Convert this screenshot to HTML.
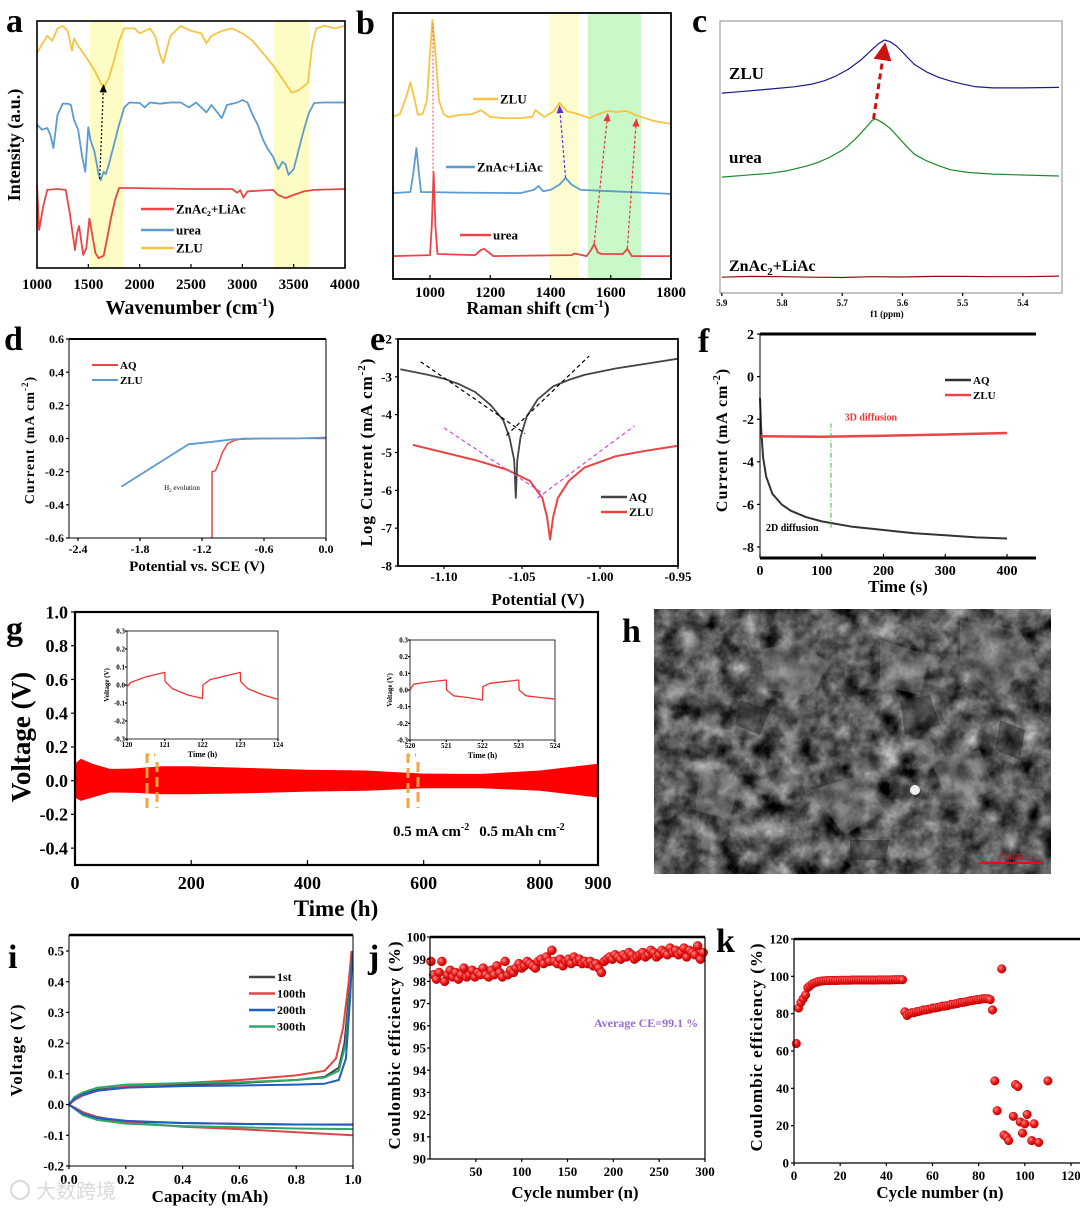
<!DOCTYPE html>
<html><head><meta charset="utf-8">
<style>
html,body{margin:0;padding:0;background:#fff;}
svg{display:block;font-family:"Liberation Serif",serif;font-weight:bold;}
</style></head>
<body>
<svg id="fig" width="1080" height="1208" viewBox="0 0 1080 1208" xmlns="http://www.w3.org/2000/svg">
<defs>
<marker id="ahK" markerWidth="8" markerHeight="8" refX="6" refY="4" orient="auto"><path d="M0,1 L7,4 L0,7 z" fill="#000"/></marker>
<marker id="ahR" markerWidth="8" markerHeight="8" refX="6" refY="4" orient="auto"><path d="M0,1 L7,4 L0,7 z" fill="#e33"/></marker>
<marker id="ahP" markerWidth="8" markerHeight="8" refX="6" refY="4" orient="auto"><path d="M0,1 L7,4 L0,7 z" fill="#6a2fd0"/></marker>
<marker id="ahD" markerWidth="6" markerHeight="6" refX="4" refY="3" orient="auto"><path d="M0,0 L6,3 L0,6 z" fill="#c11"/></marker>
<radialGradient id="dot" cx="35%" cy="35%" r="70%"><stop offset="0" stop-color="#ff8a8a"/><stop offset="0.5" stop-color="#ee1c1c"/><stop offset="1" stop-color="#b30000"/></radialGradient>
<filter id="noise" x="0" y="0" width="100%" height="100%" color-interpolation-filters="sRGB"><feTurbulence type="fractalNoise" baseFrequency="0.05" numOctaves="4" seed="7"/><feColorMatrix type="matrix" values="0.6 0.6 0.6 0 -0.55  0.6 0.6 0.6 0 -0.55  0.6 0.6 0.6 0 -0.55  0 0 0 0 1"/></filter>
</defs>

<g font-size="34">
<text x="6" y="32">a</text>
<text x="356" y="34">b</text>
<text x="692" y="32">c</text>
<text x="4" y="350">d</text>
<text x="370" y="350">e</text>
<text x="698" y="352">f</text>
<text x="6" y="640">g</text>
<text x="622" y="642">h</text>
<text x="8" y="968">i</text>
<text x="368" y="968">j</text>
<text x="716" y="952">k</text>
</g>

<rect x="90" y="21" width="33" height="247" fill="#fdfcc4"/>
<rect x="274" y="21" width="35" height="247" fill="#fdfcc4"/>
<g id="pa"></g>
<text transform="translate(20,145) rotate(-90)" text-anchor="middle" font-size="18">Intensity (a.u.)</text>
<text x="190" y="314" text-anchor="middle" font-size="20">Wavenumber (cm<tspan dy="-8" font-size="12">-1</tspan><tspan dy="8">)</tspan></text>

<rect x="550" y="13" width="29" height="266" fill="#fdfcd0"/>
<rect x="588" y="13" width="53" height="266" fill="#c9f8c9"/>
<g id="pb"></g>
<text x="538" y="314" text-anchor="middle" font-size="18">Raman shift (cm<tspan dy="-7" font-size="11">-1</tspan><tspan dy="7">)</tspan></text>

<g id="pc"></g>
<text x="729" y="79" font-size="17">ZLU</text>
<text x="729" y="163" font-size="17">urea</text>
<text x="729" y="271" font-size="16">ZnAc<tspan dy="4" font-size="11">2</tspan><tspan dy="-4">+LiAc</tspan></text>
<text x="887" y="317" text-anchor="middle" font-size="9">f1 (ppm)</text>

<g id="pd"></g>
<text x="182" y="490" text-anchor="middle" font-size="7" font-weight="normal">H<tspan dy="2" font-size="5">2</tspan><tspan dy="-2"> evolution</tspan></text>
<text transform="translate(34,440) rotate(-90)" text-anchor="middle" font-size="14" letter-spacing="1">Current (mA cm<tspan dy="-6" font-size="9">-2</tspan><tspan dy="6">)</tspan></text>
<text x="197" y="571" text-anchor="middle" font-size="15">Potential vs. SCE (V)</text>

<g id="pe"></g>
<text transform="translate(372,452) rotate(-90)" text-anchor="middle" font-size="17" letter-spacing="1">Log Current (mA cm<tspan dy="-7" font-size="11">-2</tspan><tspan dy="7">)</tspan></text>
<text x="538" y="605" text-anchor="middle" font-size="17">Potential (V)</text>

<g id="pf"></g>
<text transform="translate(727,440) rotate(-90)" text-anchor="middle" font-size="16" letter-spacing="1">Current (mA cm<tspan dy="-7" font-size="10">-2</tspan><tspan dy="7">)</tspan></text>
<text x="898" y="592" text-anchor="middle" font-size="17">Time (s)</text>

<g id="pg"></g>
<text transform="translate(30,737) rotate(-90)" text-anchor="middle" font-size="27">Voltage (V)</text>
<text x="336" y="916" text-anchor="middle" font-size="23">Time (h)</text>
<text x="393" y="836" font-size="15">0.5 mA cm<tspan dy="-6" font-size="10">-2</tspan><tspan dy="6" dx="10">0.5 mAh cm</tspan><tspan dy="-6" font-size="10">-2</tspan></text>

<g>
<rect x="654" y="609" width="397" height="265" fill="#4a4a4a"/>
<rect x="654" y="609" width="397" height="265" filter="url(#noise)"/>
<g fill="#8a8a8a" opacity="0.35">
<path d="M760,650 l40,-10 l30,25 l-20,30 l-45,-5 z"/>
<path d="M880,640 l50,15 l-10,40 l-40,-10 z"/>
<path d="M960,620 l60,10 l20,40 l-50,20 l-30,-30 z"/>
<path d="M810,790 l50,-15 l25,35 l-40,25 z"/>
<path d="M700,770 l40,10 l-10,40 l-35,-10 z"/>
<path d="M930,760 l50,-10 l15,40 l-45,15 z"/>
</g>
<g fill="#151515" opacity="0.4">
<path d="M740,700 l30,10 l-10,25 l-25,-10 z"/>
<path d="M900,700 l30,-5 l10,30 l-35,10 z"/>
<path d="M1000,720 l25,10 l-5,30 l-25,-10 z"/>
<path d="M850,840 l40,0 l-5,20 l-35,0 z"/>
</g>
<circle cx="915" cy="790" r="5" fill="#eee"/>
<line x1="980" y1="863" x2="1043" y2="863" stroke="#e01010" stroke-width="2"/>
<text x="1012" y="859" text-anchor="middle" font-size="11" font-weight="normal" fill="#e01010">5 um</text>
</g>

<g id="pi"></g>
<text transform="translate(22,1050) rotate(-90)" text-anchor="middle" font-size="17" letter-spacing="1">Voltage (V)</text>
<text x="210" y="1202" text-anchor="middle" font-size="17">Capacity (mAh)</text>

<g id="pj"></g>
<text transform="translate(400,1045) rotate(-90)" text-anchor="middle" font-size="17" letter-spacing="1">Coulombic efficiency (%)</text>
<text x="575" y="1198" text-anchor="middle" font-size="17">Cycle number (n)</text>
<text x="646" y="1027" text-anchor="middle" font-size="12" fill="#9b6ad0">Average CE=99.1 %</text>

<g id="pk"></g>
<text transform="translate(762,1047) rotate(-90)" text-anchor="middle" font-size="17" letter-spacing="1">Coulombic efficiency (%)</text>
<text x="940" y="1198" text-anchor="middle" font-size="17">Cycle number (n)</text>

<g opacity="0.55">
<circle cx="20" cy="1190" r="9" fill="none" stroke="#bbb" stroke-width="2"/>
<text x="36" y="1198" font-family="'Liberation Sans','Noto Sans CJK SC',sans-serif" font-size="20" font-weight="normal" fill="#bbb">大数跨境</text>
</g>

<script>
const NS='http://www.w3.org/2000/svg';
function el(tag,attrs,parent){const e=document.createElementNS(NS,tag);for(const k in attrs)e.setAttribute(k,attrs[k]);parent.appendChild(e);return e;}
function lin(d0,d1,r0,r1){return v=>r0+(v-d0)*(r1-r0)/(d1-d0);}
function poly(g,pts,xs,ys,style,name){
  const p=el('polyline',Object.assign({points:pts.map(d=>xs(d[0]).toFixed(1)+','+ys(d[1]).toFixed(1)).join(' '),fill:'none','stroke-linejoin':'round'},style),g);
  
  
  return p;
}
function txt(g,x,y,s,size,anchor,extra){
  const t=el('text',Object.assign({x:x,y:y,'font-size':size,'text-anchor':anchor||'middle'},extra||{}),g);
  t.textContent=s;
  
  
  return t;
}
function frame(g,x0,y0,x1,y1,sw,color){
  const r=el('rect',{x:x0,y:y0,width:x1-x0,height:y1-y0,fill:'none',stroke:color||'#000','stroke-width':sw},g);
  
  
}
function xticks(g,vals,labels,xs,yb,ly,size,len){
  vals.forEach((v,i)=>{
    const l=el('line',{x1:xs(v),x2:xs(v),y1:yb,y2:yb-(len||4),stroke:'#000','stroke-width':1.2},g);
    
    
    if(labels&&labels[i]!==null)txt(g,xs(v),ly,labels[i],size);
  });
}
function yticks(g,vals,labels,ys,xl,lx,size,len){
  vals.forEach((v,i)=>{
    const l=el('line',{x1:xl,x2:xl+(len||4),y1:ys(v),y2:ys(v),stroke:'#000','stroke-width':1.2},g);
    
    
    if(labels&&labels[i]!==null)txt(g,lx,ys(v)+size*0.35,labels[i],size,'end');
  });
}
function legend(g,x,y,color,label,size,len,sw){
  const l=el('line',{x1:x,x2:x+len,y1:y,y2:y,stroke:color,'stroke-width':sw||2.5},g);
  
  
  const t=txt(g,x+len+2,y+size*0.35,label,size,'start');
  
  return t;
}
function arrow(g,x1,y1,x2,y2,color,dash,marker,sw,name){
  const l=el('line',{x1:x1,y1:y1,x2:x2,y2:y2,stroke:color,'stroke-width':sw||1.2,'stroke-dasharray':dash,'marker-end':'url(#'+marker+')'},g);
  
  
}

/* ===== Panel a ===== */
const aTicks=[1000,1500,2000,2500,3000,3500,4000];
const aZLU=[[1000,87],[1040,90],[1100,94],[1150,92],[1200,97],[1250,98],[1300,96],[1340,88],[1360,93],[1400,90],[1450,87],[1500,84],[1560,80],[1620,75],[1650,73],[1700,77],[1750,84],[1800,92],[1850,97],[1950,97],[2000,95],[2050,96],[2100,97],[2150,94],[2200,86],[2230,83],[2260,88],[2300,94],[2400,98],[2500,96],[2600,95],[2650,91],[2700,94],[2800,96],[2900,97],[3000,95],[3100,92],[3200,87],[3300,82],[3400,76],[3480,71],[3550,72],[3640,75],[3680,90],[3720,97],[3800,98],[3900,97],[4000,98]];
const aUrea=[[1000,58],[1050,56],[1100,56.7],[1130,54],[1160,48.6],[1200,62],[1250,66.5],[1300,66.5],[1330,66],[1360,60],[1400,56],[1440,45],[1470,39],[1500,57],[1520,52],[1560,47],[1600,38],[1620,35.6],[1650,39],[1670,38],[1700,42],[1750,50],[1800,58],[1850,65],[1900,67],[2000,66.8],[2050,65],[2100,67],[2200,66.5],[2300,67],[2400,67],[2480,65],[2550,67],[2650,63],[2700,66],[2800,60.7],[2850,66],[2950,67],[3000,68],[3050,67],[3100,62],[3150,58],[3200,52],[3250,48],[3300,45],[3350,40],[3390,43],[3420,42],[3450,37.7],[3500,40],[3550,48],[3600,56],[3650,63],[3700,66.8],[3800,67],[4000,67]];
const aZnLi=[[1000,33.6],[1020,15.4],[1040,20],[1060,25],[1100,31.6],[1200,32],[1280,31.6],[1320,22],[1340,16],[1370,7.3],[1390,14],[1410,17],[1450,5.3],[1480,8],[1510,20],[1540,13],[1570,6],[1600,4],[1650,5],[1680,11.3],[1720,20],[1760,27.5],[1800,32.4],[1900,32.4],[2500,32],[2900,32],[2950,30.5],[2980,31.5],[3010,28.5],[3050,31],[3300,31.6],[3350,29.5],[3420,28.3],[3500,29.6],[3600,31],[3700,31.6],[4000,32]];
(function(){
  const g=document.getElementById('pa');
  const xs=lin(1000,4000,37,345), ys=lin(0,100,268,21);
  poly(g,aZLU,xs,ys,{stroke:'#f5c542','stroke-width':1.8},'series-zlu');
  poly(g,aUrea,xs,ys,{stroke:'#5b9bd0','stroke-width':1.8},'series-urea');
  poly(g,aZnLi,xs,ys,{stroke:'#e94545','stroke-width':1.8},'series-znac2-liac');
  arrow(g,xs(1610),ys(36),xs(1648),ys(74),'#000','2,2','ahK',1.2,'shift-arrow');
  frame(g,37,21,345,268,1.6);
  xticks(g,aTicks,aTicks.map(String),xs,268,289,15,4);
  legend(g,141,209,'#e94545','ZnAc\u2082+LiAc',13,33);
  legend(g,141,230,'#5b9bd0','urea',13,33);
  legend(g,141,248,'#f5c542','ZLU',13,33);
})();

/* ===== Panel b ===== */
const bTicks=[1000,1200,1400,1600,1800];
const bZLU=[[878,61],[900,62],[920,68],[935,74],[948,68],[960,61.7],[975,62],[990,67],[1000,85],[1008,97.4],[1016,88],[1030,67],[1045,62],[1060,60.9],[1100,61.7],[1140,62],[1170,63.5],[1200,60.9],[1250,60.5],[1300,60.5],[1340,61],[1350,63.5],[1380,60.9],[1410,63],[1430,66.2],[1455,63],[1480,62.4],[1530,60.5],[1560,62],[1590,63.2],[1620,62.8],[1650,63.2],[1690,61.3],[1740,59.5],[1800,58.3]];
const bZnLi=[[878,32.3],[935,32.7],[945,40],[955,49.2],[963,40],[970,32.7],[1100,32.5],[1300,32.3],[1345,33.5],[1360,35],[1375,33],[1400,33.5],[1430,35.5],[1450,38],[1470,35.5],[1500,33.5],[1600,33],[1800,32]];
const bUrea=[[878,8.6],[1000,9],[1006,20],[1012,40.2],[1018,20],[1025,9.4],[1150,9],[1170,11],[1180,11.3],[1200,9.5],[1210,8.6],[1470,9],[1480,9.6],[1520,8.6],[1535,11],[1545,13.2],[1557,10],[1570,9.4],[1640,9.4],[1655,11.3],[1670,8.6],[1800,8.6]];
(function(){
  const g=document.getElementById('pb');
  const xs=lin(1000,1800,430,671), ys=lin(0,100,279,13);
  poly(g,bZLU,xs,ys,{stroke:'#f5c542','stroke-width':1.8},'series-zlu');
  poly(g,bZnLi,xs,ys,{stroke:'#5b9bd0','stroke-width':1.8},'series-znac-liac');
  poly(g,bUrea,xs,ys,{stroke:'#e94545','stroke-width':1.8},'series-urea');
  const l=el('line',{x1:xs(1010),x2:xs(1010),y1:ys(40),y2:ys(96),stroke:'#e94545','stroke-width':1,'stroke-dasharray':'2,2'},g);
  
  
  arrow(g,xs(1450),ys(38),xs(1430),ys(65),'#6a2fd0','3,2','ahP',1.2,'shift-arrow-purple');
  arrow(g,xs(1545),ys(13.5),xs(1590),ys(62),'#e33','3,2','ahR',1.2,'shift-arrow-red-1');
  arrow(g,xs(1655),ys(11.5),xs(1685),ys(60),'#e33','3,2','ahR',1.2,'shift-arrow-red-2');
  frame(g,393,13,671,279,1.8);
  xticks(g,bTicks,bTicks.map(String),xs,279,297,15,4);
  legend(g,473,99,'#f5c542','ZLU',13,25);
  legend(g,446,167,'#5b9bd0','ZnAc+LiAc',13,29);
  legend(g,460,235,'#e94545','urea',13,31);
})();

/* ===== Panel c ===== */
const cTicks=[5.9,5.8,5.7,5.6,5.5,5.4];
const cTickLabels=['5.9','5.8','5.7','5.6','5.5','5.4'];
const cZLU=[[5.90,73.5],[5.87,74],[5.84,74.6],[5.81,75.2],[5.78,75.8],[5.75,76.8],[5.73,78],[5.71,79.8],[5.69,82.2],[5.67,85.5],[5.66,87.5],[5.65,89.6],[5.64,91.6],[5.63,93],[5.62,92.3],[5.61,90.8],[5.60,88.6],[5.59,86.2],[5.58,84],[5.56,81.3],[5.54,79.3],[5.52,77.9],[5.50,76.8],[5.48,75.9],[5.45,75.4],[5.40,75.4],[5.34,75.6]];
const cUrea=[[5.90,42.6],[5.86,43.3],[5.82,44],[5.79,45],[5.76,46.6],[5.74,48],[5.72,50],[5.70,52.5],[5.69,54.2],[5.68,56.3],[5.67,58.5],[5.66,61],[5.65,63.5],[5.645,64],[5.64,63.5],[5.63,62.2],[5.62,60.4],[5.61,58],[5.60,55.6],[5.59,53.2],[5.58,51],[5.56,48.6],[5.54,46.8],[5.52,45.3],[5.49,44.3],[5.45,43.7],[5.40,43.4],[5.34,43]];
const cZnLi=[[5.90,5.8],[5.85,6.1],[5.80,6.0],[5.75,5.8],[5.70,5.7],[5.65,6.0],[5.60,5.9],[5.55,6.1],[5.50,6.1],[5.45,6.0],[5.40,6.0],[5.34,6.2]];
(function(){
  const g=document.getElementById('pc');
  const xs=lin(5.903,5.335,720,1062), ys=lin(0,100,293,21);
  poly(g,cZLU,xs,ys,{stroke:'#1a1a8c','stroke-width':1.2},'series-zlu');
  poly(g,cUrea,xs,ys,{stroke:'#1f8a2a','stroke-width':1.2},'series-urea');
  poly(g,cZnLi,xs,ys,{stroke:'#8b1010','stroke-width':1.2},'series-znac2-liac');
  arrow(g,xs(5.648),ys(64),xs(5.630),ys(90),'#c11','6,4','ahD',3,'shift-arrow');
  frame(g,720,21,1062,293,1,'#888');
  xticks(g,cTicks,cTickLabels,xs,293,306,9,-3);
})();

/* ===== Panel d ===== */
const dXTicks=[-2.4,-1.8,-1.2,-0.6,0.0];
const dYTicks=[-0.6,-0.4,-0.2,0.0,0.2,0.4,0.6];
const dAQ=[[-1.103,-0.6],[-1.103,-0.2],[-1.07,-0.195],[-1.04,-0.15],[-1.0,-0.08],[-0.95,-0.03],[-0.88,-0.01],[-0.8,0],[-0.6,0],[-0.3,0.002],[0,0.0]];
const dZLU=[[-1.98,-0.29],[-1.33,-0.035],[-1.1,-0.02],[-0.9,-0.005],[-0.6,0],[-0.3,0],[0,0.006]];
(function(){
  const g=document.getElementById('pd');
  const xs=lin(-2.487,0,69,326), ys=lin(-0.6,0.6,538,339);
  poly(g,dAQ,xs,ys,{stroke:'#e94545','stroke-width':1.5},'series-aq');
  poly(g,dZLU,xs,ys,{stroke:'#5b9bd0','stroke-width':1.8},'series-zlu');
  el('line',{x1:69,y1:339,x2:326,y2:339,stroke:'#000','stroke-width':2},g);
  el('line',{x1:69,y1:339,x2:69,y2:538,stroke:'#000','stroke-width':1},g);
  el('line',{x1:326,y1:339,x2:326,y2:538,stroke:'#000','stroke-width':1},g);
  el('line',{x1:69,y1:538,x2:326,y2:538,stroke:'#000','stroke-width':1},g);
  xticks(g,dXTicks,dXTicks.map(v=>v.toFixed(1)),xs,538,553,12,-3);
  yticks(g,dYTicks,dYTicks.map(v=>v.toFixed(1)),ys,69,64,12,-3);
  legend(g,92,365,'#e94545','AQ',11,26,2);
  legend(g,92,380,'#5b9bd0','ZLU',11,26,2);
})();

/* ===== Panel e ===== */
const eXTicks=[-1.10,-1.05,-1.00,-0.95];
const eYTicks=[-8,-7,-6,-5,-4,-3,-2];
const eAQ=[[-1.128,-2.8],[-1.11,-2.95],[-1.10,-3.05],[-1.09,-3.2],[-1.08,-3.4],[-1.07,-3.75],[-1.062,-4.15],[-1.058,-4.6],[-1.055,-5.2],[-1.054,-6.2],[-1.053,-5.2],[-1.051,-4.6],[-1.047,-4.05],[-1.04,-3.6],[-1.03,-3.25],[-1.02,-3.08],[-1.01,-2.95],[-0.99,-2.78],[-0.97,-2.65],[-0.95,-2.52]];
const eZLU=[[-1.12,-4.8],[-1.10,-5.0],[-1.08,-5.2],[-1.06,-5.45],[-1.045,-5.75],[-1.037,-6.2],[-1.034,-6.7],[-1.032,-7.3],[-1.030,-6.7],[-1.027,-6.2],[-1.02,-5.75],[-1.01,-5.4],[-0.99,-5.1],[-0.97,-4.95],[-0.95,-4.82]];
const eFitAQ=[[[-1.115,-2.6],[-1.048,-4.5]],[[-1.06,-4.55],[-1.007,-2.45]]];
const eFitZLU=[[[-1.10,-4.35],[-1.036,-6.1]],[[-1.04,-6.2],[-0.978,-4.3]]];
(function(){
  const g=document.getElementById('pe');
  const xs=lin(-1.1295,-0.95,398,678), ys=lin(-8,-2,566,339);
  poly(g,eZLU,xs,ys,{stroke:'#e94545','stroke-width':2},'series-zlu');
  poly(g,eAQ,xs,ys,{stroke:'#444','stroke-width':1.8},'series-aq');
  eFitAQ.forEach(s=>poly(g,s,xs,ys,{stroke:'#000','stroke-width':1.2,'stroke-dasharray':'4,3'},'tafel-fit-aq'));
  eFitZLU.forEach(s=>poly(g,s,xs,ys,{stroke:'#d34ad8','stroke-width':1.2,'stroke-dasharray':'4,3'},'tafel-fit-zlu'));
  frame(g,398,339,678,566,1.8);
  xticks(g,eXTicks,eXTicks.map(v=>v.toFixed(2)),xs,566,581,13,-3);
  yticks(g,eYTicks,eYTicks.map(String),ys,398,392,13,-3);
  legend(g,601,497,'#444','AQ',12,26,2.5);
  legend(g,601,512,'#e94545','ZLU',12,26,2.5);
})();

/* ===== Panel f ===== */
const fXTicks=[0,100,200,300,400];
const fYTicks=[-8,-6,-4,-2,0,2];
const fAQ=[[0,-1],[2,-2.5],[5,-3.8],[10,-4.7],[20,-5.5],[35,-6.0],[50,-6.3],[75,-6.6],[100,-6.8],[150,-7.05],[200,-7.2],[250,-7.35],[300,-7.45],[350,-7.55],[400,-7.6]];
const fZLU=[[0,-2.8],[100,-2.82],[200,-2.78],[300,-2.72],[400,-2.65]];
(function(){
  const g=document.getElementById('pf');
  const xs=lin(0,400,760,1007), ys=lin(-8,2,547,334);
  poly(g,fAQ,xs,ys,{stroke:'#333','stroke-width':2},'series-aq');
  poly(g,fZLU,xs,ys,{stroke:'#e94545','stroke-width':2.5},'series-zlu');
  poly(g,[[115,-7.1],[115,-2.2]],xs,ys,{stroke:'#2fbf3a','stroke-width':1,'stroke-dasharray':'5,2,1,2'},'diffusion-divider');
  el('line',{x1:760,y1:334,x2:1036,y2:334,stroke:'#000','stroke-width':3},g);
  el('line',{x1:760,y1:558,x2:1036,y2:558,stroke:'#000','stroke-width':3},g);
  el('line',{x1:760,y1:334,x2:760,y2:558,stroke:'#000','stroke-width':1},g);
  xticks(g,fXTicks,fXTicks.map(String),xs,558,575,14,4);
  yticks(g,fYTicks,fYTicks.map(String),ys,760,754,14,-3);
  legend(g,945,380,'#333','AQ',11,26,2.5);
  legend(g,945,395,'#e94545','ZLU',11,26,2.5);
  txt(g,xs(137),ys(-2.05),'3D diffusion',10,'start',{fill:'#e33'});
  txt(g,766,531,'2D diffusion',10,'start');
})();

/* ===== Panel g ===== */
const gXTicks=[0,200,400,600,800,900];
const gYTicks=[-0.4,-0.2,0.0,0.2,0.4,0.6,0.8,1.0];
const gUpper=[[0,0.1],[10,0.13],[30,0.1],[60,0.07],[100,0.072],[150,0.085],[200,0.085],[300,0.075],[400,0.065],[500,0.06],[600,0.042],[700,0.04],[800,0.06],[900,0.1]];
const gLower=[[0,-0.1],[10,-0.12],[30,-0.1],[60,-0.07],[100,-0.072],[150,-0.08],[200,-0.08],[300,-0.075],[400,-0.065],[500,-0.06],[600,-0.045],[700,-0.045],[800,-0.06],[900,-0.1]];
const gIns1=[[120,-0.01],[120.1,0.015],[120.5,0.045],[121,0.07],[121.01,0.02],[121.2,-0.02],[121.6,-0.055],[122,-0.075],[122.01,0.0],[122.2,0.03],[122.6,0.05],[123,0.07],[123.01,0.02],[123.2,-0.02],[123.6,-0.055],[124,-0.08]];
const gIns2=[[520,0.0],[520.1,0.035],[520.4,0.045],[521,0.06],[521.01,0.0],[521.2,-0.035],[521.6,-0.045],[522,-0.06],[522.01,0.02],[522.2,0.04],[522.6,0.05],[523,0.06],[523.01,0.0],[523.2,-0.035],[523.6,-0.045],[524,-0.055]];
const gInsYTicks=[-0.3,-0.2,-0.1,0.0,0.1,0.2,0.3];
(function(){
  const g=document.getElementById('pg');
  const xs=lin(0,900,75,598), ys=lin(-0.5,1.0,865,612);
  const pts=gUpper.concat(gLower.slice().reverse());
  const band=el('polygon',{points:pts.map(d=>xs(d[0]).toFixed(1)+','+ys(d[1]).toFixed(1)).join(' '),fill:'#f00'},g);
  
  
  frame(g,75,612,598,865,2.2);
  xticks(g,gXTicks,gXTicks.map(String),xs,865,889,18,5);
  yticks(g,gYTicks,gYTicks.map(v=>v.toFixed(1)),ys,75,68,18,-4);
  [[131,148],[580,409]].forEach((o,i)=>{
    const r=el('path',{d:'M'+(o[1]-1)+',808 V755 H'+(o[1]+7)+' M'+(o[1]+9)+',762 V808',fill:'none',stroke:'#f7a340','stroke-width':3,'stroke-dasharray':'10,5'},g);
    
    
  });
  function inset(x0,y0,x1,y1,t0,data,name){
    const ix=lin(t0,t0+4,x0,x1), iy=lin(-0.3,0.3,y1,y0);
    el('rect',{x:x0,y:y0,width:x1-x0,height:y1-y0,fill:'#fff',stroke:'#000','stroke-width':0.8},g);
    poly(g,data,ix,iy,{stroke:'#e33','stroke-width':1.3},name);
    const tk=[0,1,2,3,4].map(v=>t0+v);
    xticks(g,tk,tk.map(String),ix,y1,y1+8,7,-2);
    yticks(g,gInsYTicks,gInsYTicks.map(v=>v.toFixed(1)),iy,x0,x0-2,7,-2);
    txt(g,(x0+x1)/2,y1+18,'Time (h)',8);
    const yt=el('text',{transform:'translate('+(x0-18)+','+((y0+y1)/2)+') rotate(-90)','text-anchor':'middle','font-size':7},g);
    yt.textContent='Voltage (V)';
    
    
  }
  inset(127,631,278,739,120,gIns1,'inset-series-120h');
  inset(410,640,555,740,520,gIns2,'inset-series-520h');
})();

/* ===== Panel i ===== */
const iXTicks=[0,0.2,0.4,0.6,0.8,1.0];
const iYTicks=[-0.2,-0.1,0.0,0.1,0.2,0.3,0.4,0.5];
const iCycles=['1st','100th','200th','300th'];
const iColors=['#444','#e04545','#1f5fbf','#2ea86a'];
const iCharge1=[[0,0],[0.02,0.02],[0.05,0.035],[0.1,0.048],[0.2,0.058],[0.4,0.065],[0.6,0.07],[0.8,0.08],[0.9,0.09],[0.95,0.12],[0.97,0.2],[0.985,0.35],[0.995,0.5]];
const iCharge100=[[0,0],[0.02,0.015],[0.05,0.03],[0.1,0.045],[0.2,0.058],[0.4,0.07],[0.6,0.08],[0.8,0.095],[0.9,0.11],[0.94,0.15],[0.965,0.25],[0.985,0.4],[0.995,0.5]];
const iCharge200=[[0,0],[0.02,0.02],[0.05,0.033],[0.1,0.045],[0.2,0.055],[0.4,0.06],[0.6,0.062],[0.8,0.065],[0.9,0.068],[0.95,0.08],[0.975,0.15],[0.99,0.35],[0.998,0.5]];
const iCharge300=[[0,0],[0.02,0.025],[0.05,0.04],[0.1,0.055],[0.2,0.065],[0.4,0.07],[0.6,0.073],[0.8,0.08],[0.9,0.088],[0.95,0.11],[0.975,0.2],[0.99,0.38],[0.998,0.5]];
const iDis1=[[0,0],[0.05,-0.03],[0.1,-0.045],[0.2,-0.055],[0.4,-0.06],[0.6,-0.063],[0.8,-0.065],[1.0,-0.065]];
const iDis100=[[0,0],[0.05,-0.025],[0.1,-0.04],[0.2,-0.058],[0.4,-0.072],[0.6,-0.08],[0.8,-0.09],[1.0,-0.1]];
const iDis200=[[0,0],[0.05,-0.03],[0.1,-0.043],[0.2,-0.053],[0.4,-0.06],[0.6,-0.063],[0.8,-0.065],[1.0,-0.066]];
const iDis300=[[0,0],[0.05,-0.035],[0.1,-0.05],[0.2,-0.062],[0.4,-0.07],[0.6,-0.074],[0.8,-0.078],[1.0,-0.08]];
(function(){
  const g=document.getElementById('pi');
  const xs=lin(0,1,69,353), ys=lin(-0.2,0.5,1166,951);
  const ch=[iCharge1,iCharge100,iCharge200,iCharge300], di=[iDis1,iDis100,iDis200,iDis300];
  [0,1,3,2].forEach(k=>{
    poly(g,ch[k],xs,ys,{stroke:iColors[k],'stroke-width':2},'charge-'+iCycles[k]);
    poly(g,di[k],xs,ys,{stroke:iColors[k],'stroke-width':2},'discharge-'+iCycles[k]);
  });
  el('line',{x1:69,y1:935,x2:353,y2:935,stroke:'#000','stroke-width':2.5},g);
  el('line',{x1:69,y1:935,x2:69,y2:1166,stroke:'#000','stroke-width':1},g);
  el('line',{x1:353,y1:935,x2:353,y2:1166,stroke:'#000','stroke-width':1},g);
  el('line',{x1:69,y1:1166,x2:353,y2:1166,stroke:'#000','stroke-width':1},g);
  xticks(g,iXTicks,iXTicks.map(v=>v.toFixed(1)),xs,1166,1184,14,-3);
  yticks(g,iYTicks,iYTicks.map(v=>v.toFixed(1)),ys,69,64,13,-3);
  iCycles.forEach((c,k)=>legend(g,249,977+k*16.5,iColors[k],c,12,26,2.5));
})();

/* ===== Panel j ===== */
const jXTicks=[50,100,150,200,250,300];
const jYTicks=[90,91,92,93,94,95,96,97,98,99,100];
const jCycles=[1,4,7,10,13,16,19,22,25,28,31,34,37,40,43,46,49,52,55,58,61,64,67,70,73,76,79,82,85,88,91,94,97,100,103,106,109,112,115,118,121,124,127,130,133,136,139,142,145,148,151,154,157,160,163,166,169,172,175,178,181,184,187,190,193,196,199,202,205,208,211,214,217,220,223,226,229,232,235,238,241,244,247,250,253,256,259,262,265,268,271,274,277,280,283,286,289,292,295,298];
const jCE=[98.9,98.3,98.1,98.4,98.9,98.0,98.3,98.5,98.2,98.4,98.1,98.3,98.6,98.2,98.3,98.5,98.2,98.4,98.3,98.6,98.3,98.2,98.5,98.3,98.7,98.4,98.2,98.9,98.3,98.5,98.4,98.6,98.8,98.6,98.7,98.9,98.8,98.7,98.6,98.9,99.0,98.8,99.1,98.9,99.4,98.9,98.8,99.0,98.7,98.9,99.0,98.8,99.1,98.9,99.0,98.8,98.9,98.8,98.9,98.7,98.8,98.6,98.4,98.9,99.0,99.1,99.0,99.2,99.1,99.0,99.2,99.1,99.3,99.2,99.0,99.1,99.2,99.3,99.1,99.2,99.4,99.3,99.1,99.2,99.4,99.3,99.2,99.5,99.3,99.4,99.2,99.3,99.5,99.1,99.4,99.3,99.2,99.6,99.0,99.3];
(function(){
  const g=document.getElementById('pj');
  const xs=lin(0,300,430,705), ys=lin(90,100,1159,937);
  jCycles.forEach((c,i)=>{
    const d=el('circle',{cx:xs(c),cy:ys(jCE[i]),r:4.5,fill:'url(#dot)',stroke:'#c00','stroke-width':0.5},g);
    
    
  });
  el('line',{x1:430,y1:937,x2:705,y2:937,stroke:'#000','stroke-width':2.5},g);
  el('line',{x1:430,y1:937,x2:430,y2:1159,stroke:'#000','stroke-width':1.2},g);
  el('line',{x1:705,y1:937,x2:705,y2:1159,stroke:'#000','stroke-width':1.2},g);
  el('line',{x1:430,y1:1159,x2:705,y2:1159,stroke:'#000','stroke-width':1.2},g);
  xticks(g,jXTicks,jXTicks.map(String),xs,1159,1176,13,-3);
  yticks(g,jYTicks,jYTicks.map(String),ys,430,426,13,-3);
})();

/* ===== Panel k ===== */
const kXTicks=[0,20,40,60,80,100,120];
const kYTicks=[0,20,40,60,80,100,120];
const kCycles=[1,2,3,4,5,6,7,8,9,10,11,12,13,14,15,16,17,18,19,20,21,22,23,24,25,26,27,28,29,30,31,32,33,34,35,36,37,38,39,40,41,42,43,44,45,46,47,48,49,50,51,52,53,54,55,56,57,58,59,60,61,62,63,64,65,66,67,68,69,70,71,72,73,74,75,76,77,78,79,80,81,82,83,84,85,86,87,88,90,91,92,93,95,96,97,98,99,100,101,103,104,106,110];
const kCE=[64,83,86,88,90,94,95,96,96.5,97,97.3,97.5,97.6,97.7,97.7,97.8,97.8,97.8,97.8,97.9,97.9,97.9,97.9,97.9,98,98,98,98,98,98,98,98,98,98,98,98,98.1,98.1,98.1,98.1,98.1,98.1,98.2,98.2,98.2,98.2,98.2,81,79,80,80.5,80.5,81,81.2,81.5,82,82,82.3,82.5,83,83,83.3,83.5,84,84,84.2,84.5,85,85,85.3,85.5,86,86,86.2,86.5,86.8,87,87.2,87.5,87.5,87.8,88,88,88,87.5,82,44,28,104,15,14,12,25,42,41,22,16,21,26,12,21,11,44];
(function(){
  const g=document.getElementById('pk');
  const xs=lin(0,120,794,1071), ys=lin(0,120,1163,939);
  kCycles.forEach((c,i)=>{
    const d=el('circle',{cx:xs(c),cy:ys(kCE[i]),r:4.3,fill:'url(#dot)',stroke:'#c00','stroke-width':0.5},g);
    
    
  });
  el('line',{x1:794,y1:939,x2:1080,y2:939,stroke:'#000','stroke-width':2.5},g);
  el('line',{x1:794,y1:939,x2:794,y2:1163,stroke:'#000','stroke-width':1.2},g);
  el('line',{x1:794,y1:1163,x2:1080,y2:1163,stroke:'#000','stroke-width':1.2},g);
  xticks(g,kXTicks,kXTicks.map(String),xs,1163,1180,13,-3);
  yticks(g,kYTicks,kYTicks.map(String),ys,794,789,13,-3);
})();
</script>
</svg>
</body></html>
